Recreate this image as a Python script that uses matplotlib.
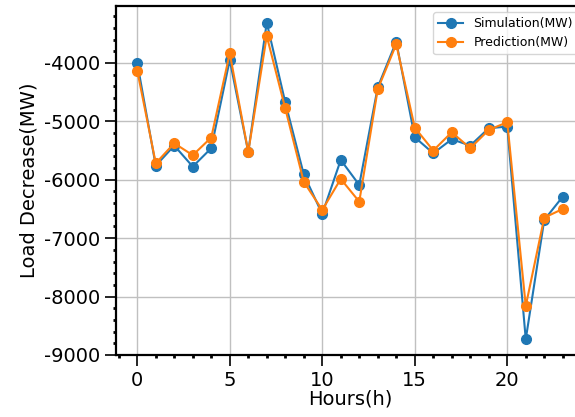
import matplotlib
matplotlib.use("Agg")
import matplotlib.pyplot as plt
import numpy as np
from matplotlib.ticker import MultipleLocator

hours = np.arange(24)
simulation = [-4000, -5760, -5415, -5775, -5460, -3950, -5525, -3310,
              -4675, -5908, -6586, -5661, -6089, -4416, -3635, -5272,
              -5547, -5307, -5415, -5118, -5090, -8731, -6688, -6289]
prediction = [-4130, -5718, -5375, -5580, -5277, -3835, -5525, -3540,
              -4778, -6035, -6517, -5986, -6375, -4450, -3680, -5107,
              -5500, -5187, -5460, -5147, -5015, -8161, -6649, -6500]

plt.rcParams['axes.unicode_minus'] = False

fig = plt.figure(figsize=(5.75, 4.17), dpi=100)
# axes runs past the right edge, the original picture is cropped there
ax = fig.add_axes([0.2017, 0.1487, 0.814, 0.837])

ax.plot(hours, simulation, marker='o', markersize=7, linewidth=1.5,
        color='#1f77b4', label='Simulation(MW)')
ax.plot(hours, prediction, marker='o', markersize=7, linewidth=1.5,
        color='#ff7f0e', label='Prediction(MW)')

ax.set_xlim(-1.15, 24.15)
ax.set_ylim(-9000, -3025)
ax.xaxis.set_major_locator(MultipleLocator(5))
ax.xaxis.set_minor_locator(MultipleLocator(1))
ax.yaxis.set_major_locator(MultipleLocator(1000))
ax.yaxis.set_minor_locator(MultipleLocator(200))

ax.tick_params(which='major', direction='out', length=8, width=1.2, labelsize=14)
ax.tick_params(which='minor', direction='out', length=2.5, width=2)
for s in ax.spines.values():
    s.set_linewidth(1.6)

ax.grid(True, which='major', color='#c0c0c0', linewidth=1)
ax.set_axisbelow(True)

ax.set_xlabel('Hours(h)', fontsize=14, labelpad=0)
ax.set_ylabel('Load Decrease(MW)', fontsize=14)
ax.legend(loc='upper right', fontsize=9)

fig.savefig('out.png', dpi=100)
